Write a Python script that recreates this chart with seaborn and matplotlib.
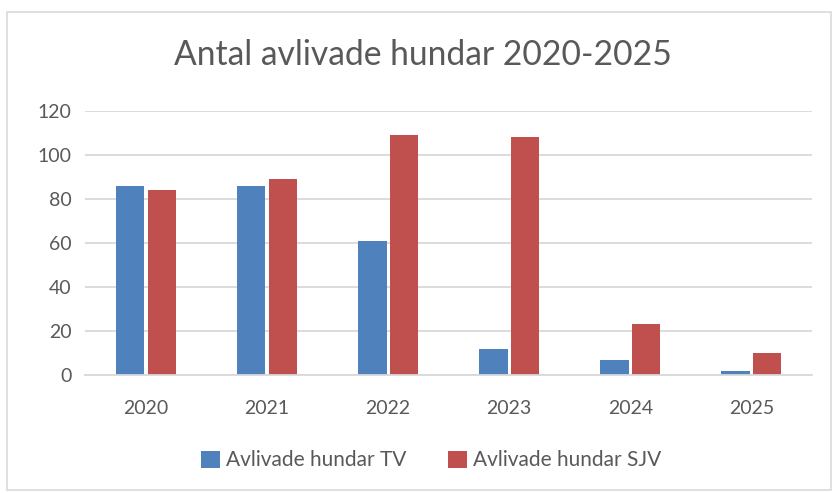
import pandas as pd
import matplotlib.pyplot as plt
import seaborn as sns
from matplotlib.patches import Rectangle

# --- Data ---
years = ['2020', '2021', '2022', '2023', '2024', '2025']
tv_values = [86, 86, 61, 12, 7, 2]
sjv_values = [84, 89, 109, 108, 23, 10]
series_names = ['Avlivade hundar TV', 'Avlivade hundar SJV']
yticks = [0, 20, 40, 60, 80, 100, 120]

df = pd.DataFrame({
    'År': years * 2,
    'Antal': tv_values + sjv_values,
    'Serie': [series_names[0]] * len(years) + [series_names[1]] * len(years),
})

sns.set_theme(style="white")
plt.rcParams['font.family'] = ['Lato', 'DejaVu Sans']
text_col = '#595959'

fig = plt.figure(figsize=(8.33, 4.93), dpi=100)
ax = fig.add_axes([0.1026, 0.2394, 0.872, 0.5355])

sns.barplot(data=df, x='År', y='Antal', hue='Serie', ax=ax,
            palette=['#4F81BD', '#C0504D'], width=0.52, gap=0.1,
            saturation=1, linewidth=0, legend=True)

ax.set_ylim(0, 120)
ax.set_yticks(yticks)
ax.set_xlim(-0.5, len(years) - 0.5)
ax.yaxis.grid(True, color='#D9D9D9', linewidth=1.3)
ax.set_axisbelow(True)
for s in ['top', 'right', 'left']:
    ax.spines[s].set_visible(False)
ax.spines['bottom'].set_color('#D9D9D9')
ax.spines['bottom'].set_linewidth(1.3)
ax.set_xlabel('')
ax.set_ylabel('')
ax.tick_params(axis='both', length=0, labelsize=14, colors=text_col, pad=10)
ax.tick_params(axis='x', pad=18)

# Title
fig.text(0.508, 0.888, 'Antal avlivade hundar 2020-2025', ha='center', va='center',
         fontsize=24.2, color=text_col)

# Legend at bottom
ax.legend(loc='center', bbox_to_anchor=(0.518, 0.066), bbox_transform=fig.transFigure,
          ncol=2, frameon=False, fontsize=15, labelcolor=text_col,
          handlelength=0.9, handleheight=0.9, handletextpad=0.3, columnspacing=2.0)

# Chart border
fig.patches.append(Rectangle((0.009, 0.006), 0.988, 0.969, transform=fig.transFigure,
                             fill=False, edgecolor='#D9D9D9', linewidth=1.2))

plt.savefig("out.png", dpi=100)
